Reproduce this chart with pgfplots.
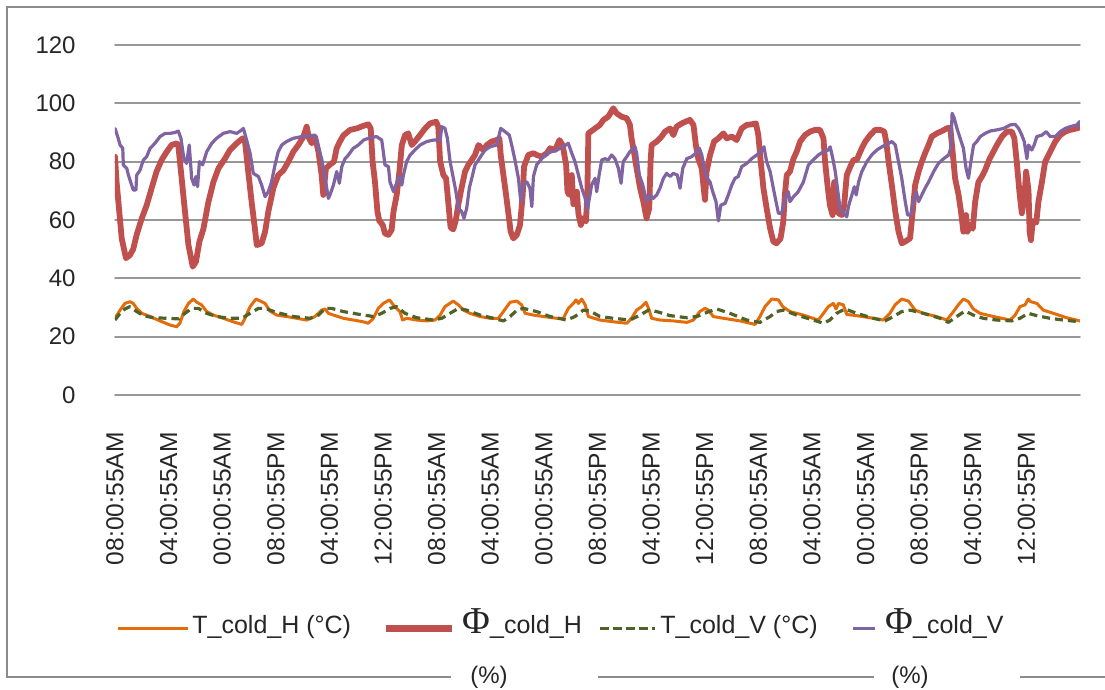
\documentclass[border=0pt]{standalone}
\usepackage{fontspec}
\setmainfont{Liberation Sans}
\newfontfamily\phifont{Liberation Serif}
\usepackage{pgfplots}
\pgfplotsset{compat=1.18}

\definecolor{cOrange}{HTML}{E46C0A}
\definecolor{cRed}{HTML}{C0504D}
\definecolor{cGreen}{HTML}{4F6228}
\definecolor{cPurple}{HTML}{8064A2}
\definecolor{cGrid}{HTML}{979797}
\definecolor{cFrame}{HTML}{8C8C8C}

% Hours since start of logging, value
\pgfplotstableread{
h v
0 26.3
1.9 29.1
3.7 31.4
5.6 32
6.8 31.4
8.1 29.7
10.0 28
13.1 26.9
16.8 25.4
20.5 24
23.0 23.4
24.2 24.6
25.7 28.6
27.4 31.4
29.2 32.9
30.5 31.8
32.3 30.9
34.2 28.6
36.7 27.4
40.4 26.3
44.1 25.1
47.3 24.2
48.5 26.3
50.4 30.3
52.6 32.9
54.7 32
56.0 31.4
57.8 28.8
60.3 27.4
64.0 26.9
67.8 26.3
71.5 25.7
74.6 26.9
77.1 29.1
78.4 29.5
79.6 28
81.5 27.4
85.2 26.3
88.9 25.7
92.6 25.1
94.5 24.6
96.4 26.3
98.2 29.7
100.1 31.4
102.4 32.6
103.8 30.9
106.3 28.6
107.3 25.7
108.8 26.3
112.5 25.7
116.3 25.4
119.4 25.7
121.3 27.4
123.1 30.3
126.2 32.2
128.1 30.9
130.0 29.1
132.4 28
136.2 26.9
139.9 26.3
143.0 26.3
144.9 28.6
147.4 31.8
149.9 32.2
151.7 30.9
153.0 28
156.1 27.4
159.8 26.9
164.8 26.3
167.3 26.3
169.1 29.7
171.0 31.4
172.0 32.6
172.9 31.4
174.1 32.9
175.4 30.9
176.6 26.9
180.9 25.7
185.9 25.1
190.9 24.6
192.7 26.3
194.6 29.1
196.5 30.3
198.1 31.8
199.3 29.1
200.2 26.3
203.3 25.7
208.3 25.4
213.3 24.9
215.8 25.7
218.2 28.6
220.1 29.7
221.4 29.1
223.2 26.9
227.0 26.3
233.2 25.4
238.8 24.2
240.6 26.9
242.5 30.3
245.0 32.9
247.5 32.6
249.1 30.3
251.8 28.6
256.8 27.4
262.4 25.7
264.3 28
266.1 30.3
268.0 31.4
269.0 29.5
269.9 31.4
271.7 30.9
273.0 27.6
276.7 27.2
282.9 26.3
286.6 25.7
289.1 28
291.0 30.9
293.5 32.9
296.0 32.2
298.5 29.1
301.6 28
306.5 26.9
310.3 25.7
312.8 28.6
314.6 30.9
316.5 32.9
318.4 32
320.2 29.5
322.7 28
327.7 26.9
333.9 25.7
335.8 27.4
337.6 30.3
339.5 30.9
340.7 32.9
341.6 32
343.9 31.4
346.3 29.1
350.1 28
355.0 26.5
360 25.4
}\TcoldH

\pgfplotstableread{
h v
0 81.7
0.6 73
2.5 53.7
4.1 46.9
5.6 48
6.8 50
8.1 55
10.0 60.6
11.8 65
13.7 71
15.5 76.6
17.4 80.6
19.3 83.4
21.1 85.7
23.0 86.3
23.6 85.7
24.9 74
26.1 63
27.4 51.4
29.0 44
30.2 45.7
31.5 52.6
33.0 57
34.8 66
36.7 73
38.6 77.7
41.0 81
42.9 84
45.4 86.3
47.6 88
48.5 86.9
49.7 76.6
51.0 66
52.2 57
52.9 51.4
54.7 52
56.0 56
57.2 62.9
59.1 71
60.9 75.4
62.8 77
64.7 80
66.5 83.4
68.4 85.7
70.3 88.6
71.5 92
72.4 88
73.4 86.3
74.6 88.6
75.9 83.4
77.1 75.4
77.7 68.6
78.7 77.7
80.2 79
81.7 80
82.7 84.6
83.9 86.9
85.2 89
87.7 90.9
90.2 91.4
92.7 92.3
94.5 92.8
95.4 91.4
96.1 80
97.0 73
97.9 62.9
98.6 59.7
99.9 58.3
100.7 55.4
102.0 54.9
103.2 56.6
103.9 62.9
105.1 68.6
106.1 76.6
107.0 85.7
108.2 89.1
109.4 89.7
110.7 85.7
111.9 86.9
113.8 89.1
115.7 91.4
117.5 93.1
119.8 93.7
120.6 92
121.3 80
122.5 75.4
123.5 74.3
124.4 65.4
125.2 57.4
126.2 56.8
127.2 60.2
128.1 65.4
129.3 71
130.6 76.6
131.8 78.9
133.1 80.6
134.3 82.3
135.6 85.7
137.4 84
138.7 85.7
140.5 86.9
142.4 87.4
143.4 88
143.9 82.3
144.9 75.4
145.9 68.6
146.8 62
147.6 56
148.6 53.7
149.9 54.9
151.1 58.3
152.1 68.6
152.6 78.3
154.2 82.3
156.1 82.9
157.3 82.3
159.2 81.7
161.1 82.9
162.3 84.6
164.2 84
165.8 87.4
167.0 85.7
168.3 78.9
168.8 69.7
169.5 68.6
170.4 75.4
171.0 65.4
172.3 69.7
172.9 62
173.8 58.3
174.7 60.6
175.7 59.5
176.2 68.6
176.6 89.7
179.1 91.4
180.9 92.6
182.2 94.3
184.0 95.4
185.9 98.3
187.1 96.6
189.0 95.4
190.9 94.9
192.1 92.6
192.7 88
193.6 83.4
194.6 77.7
195.9 70.9
197.1 66.3
198.3 60.6
199.3 64
199.8 80
200.2 85.7
202.1 86.9
203.9 88.6
205.2 90.3
207.1 91.4
208.3 89.1
209.5 92
211.4 93.1
213.3 93.9
214.5 94.3
215.8 92.6
216.7 85.7
217.6 81
218.9 77.7
219.5 72
220.1 66.9
220.7 76.6
222.0 82.3
223.5 86.9
225.1 88
227.0 89.7
228.2 88
230.1 88.6
231.9 87.4
233.8 91.4
235.7 92.6
237.5 92.8
239.1 93.1
240.0 89.1
240.9 80
241.9 70.9
243.1 64
244.4 57.1
245.6 52.6
246.8 52
248.3 53.7
249.3 59.4
249.9 68.6
250.6 75.4
251.8 76.6
253.1 81
254.3 83.4
255.6 86.9
257.4 89.1
259.3 90.3
261.2 90.9
263.0 90.9
264.3 88
264.9 80
265.8 72
266.7 65.1
267.7 61.7
268.3 73
269.0 65.7
269.9 62.3
271.2 61.7
272.0 65
273.0 75.4
274.3 78.3
275.5 80.6
276.7 80.6
278.6 84.6
279.9 86.9
281.7 89.1
283.6 90.9
285.5 90.9
287.0 90.3
287.7 86.9
288.6 80
289.8 72
291.1 62.9
292.3 56
293.5 52
294.8 52.6
296.6 53.7
297.6 62.9
298.5 72
299.8 76.6
301.0 80
302.2 82.9
303.5 85.7
304.7 88.6
306.6 89.7
308.5 90.5
310.3 91.4
311.6 91.7
312.6 82.3
313.4 74.3
314.7 68.6
315.6 62.9
316.5 56
317.5 61.7
318.0 56
319.0 58.3
320.0 57
320.9 66.3
322.1 73
323.4 74.9
324.6 77.1
326.3 81
327.7 83.4
329.0 85.7
330.9 88.6
332.7 90.3
334.6 90.3
335.5 88
336.4 80
337.4 69.7
338.3 62.3
339.2 67
339.9 76.6
340.8 70
341.2 56
341.7 53.1
342.4 59.7
343.7 59.1
344.5 66.3
345.8 73
347.0 80
348.9 83.4
350.8 86.9
352.6 89.1
354.5 90.3
356.3 90.9
358.8 91.4
360 91.8
}\PhicoldH

\pgfplotstableread{
h v
0 25.7
1.9 28
3.7 29.5
5.6 30.3
8.1 28.6
10.6 27.2
14.3 26.5
19.3 26.3
23.6 26.1
26.1 28
28.6 29.7
31.1 29.7
34.2 28
37.9 26.9
42.9 26.3
47.3 26.3
50.4 28
53.5 29.7
56.0 29.7
60.3 28.3
66.5 26.9
72.8 26.3
75.9 27.4
78.4 29.7
80.8 29.7
85.2 28.6
91.4 27.6
96.4 26.9
99.5 28
102.6 29.7
105.1 30.3
108.2 28
112.5 26.5
118.8 25.7
121.9 26.3
125.0 28
128.1 29.7
131.2 29.1
136.2 27.4
141.2 26.3
144.9 25.4
147.4 26.9
149.9 29.1
152.4 29.7
157.3 28.6
162.3 26.9
168.5 25.7
171.6 26.9
174.7 29.1
177.2 28.8
180.9 26.9
185.9 26.3
192.1 25.7
195.9 27.4
199.0 29.1
202.1 28.6
207.1 27.2
213.3 26.5
217.0 26.9
220.7 28.3
224.5 29.5
229.4 28
235.7 25.7
240.6 24.9
244.4 26.9
246.8 28.6
249.3 29.1
254.3 27.4
260.5 25.7
264.3 24.6
266.7 25.7
269.2 28
272.3 29.5
276.7 28
282.9 26.3
287.3 25.4
290.4 26.9
293.5 28.6
296.6 29.1
301.6 28
307.8 26.3
310.9 24.9
314.0 26.9
317.1 28.8
320.2 27.4
323.9 26.3
328.9 25.7
334.5 25.4
337.6 26.3
340.7 28
343.9 27.2
348.8 26.3
353.8 25.7
360 25.1
}\TcoldV

\pgfplotstableread{
h v
0 91.4
1.2 88
1.9 85.7
2.9 84.6
3.1 78.9
4.4 77.7
5.0 75.4
6.2 72
6.8 70.3
7.8 70.3
8.1 75.4
9.3 77
10.6 80.6
11.8 81.7
13.1 84.6
14.9 86.3
16.8 88.6
18.7 89.7
20.5 89.7
22.4 90
23.6 90.5
24.6 88
25.7 81
26.7 79.4
27.7 85.7
28.6 74.3
29.5 72
30.2 74.9
30.8 71.4
31.5 80
32.7 78.9
34.2 83.4
36.1 86.3
37.9 88
40.4 89.7
42.9 90.3
45.4 89.7
47.3 90.9
47.9 91.4
49.1 87.4
50.4 82.9
51.6 76
53.5 74.9
54.7 72
56.0 68
57.2 69.7
58.4 73
59.7 78.9
60.9 83.4
62.2 85.7
64.0 86.9
66.5 88
69.6 88.6
72.8 88.9
74.6 89.1
75.9 84.6
77.1 81
78.4 74.3
79.6 67.4
80.2 68.6
81.5 72
82.7 76.6
83.7 72.6
84.6 78.3
85.8 81
87.1 82.3
88.9 84.6
90.8 85.7
92.7 87.4
95.1 88.2
97.6 88.6
99.5 87.4
100.1 83.4
100.7 78.9
102.0 78.3
102.6 73
103.9 69.7
104.8 72
106.1 74.9
107.0 72
107.6 75.4
108.8 80
110.1 82.3
111.9 84
113.8 85.7
116.3 86.9
118.8 87.4
121.3 87.4
121.9 92
123.1 91.4
124.0 88
125.0 80
126.0 75.4
127.2 69.7
128.1 64
129.3 62.9
130.2 60.6
131.2 64
132.2 71
133.1 74.3
134.3 78.9
135.6 80.6
136.8 82.3
138.1 84
139.9 85.1
142.4 85.7
143.9 91.4
145.5 90.3
147.1 89.1
148.0 85.7
149.2 80.6
150.5 74.3
151.4 66.3
152.4 72.6
153.6 73.1
154.8 70.9
155.5 64.6
156.1 74.9
157.3 78.9
159.2 81
161.1 82.9
162.9 83.4
164.8 84
167.3 85.1
169.1 86.3
170.4 82.9
171.6 80
172.9 75.4
174.1 71
175.4 67.4
176.2 63.4
177.2 68.6
177.8 72
179.1 74.3
179.7 69.7
180.7 76
181.6 80.6
182.8 81
184.0 80.6
185.3 82.3
186.5 81
187.8 77.7
188.8 72.6
189.6 80
190.9 81.7
192.1 83.4
194.0 85.1
194.6 82.9
195.6 75.4
196.9 72
198.3 66.3
199.6 68.6
200.8 67.4
202.1 68.6
203.3 70.9
204.6 74.3
205.8 76
207.1 74.9
208.3 76
209.8 75.4
210.8 70.9
211.8 77.7
213.3 81
215.1 81.7
216.7 82.9
218.0 84.6
218.9 82.3
220.1 76.6
221.0 74.3
222.0 73
223.0 69.7
224.2 66.3
225.1 59.7
226.0 65.1
227.6 65.7
228.8 68.6
230.1 72
231.3 74.3
232.5 74.9
233.8 78.3
235.7 79.4
237.5 81
239.4 82.3
240.9 83.4
242.1 85.1
243.1 80
244.4 76.6
245.6 70.9
246.6 66.3
247.5 62.3
248.7 62.3
250.0 67.4
251.2 69.7
251.8 66.3
253.1 68
254.9 69.7
256.8 73
258.7 78.9
260.5 80.6
262.4 82.3
264.3 83.4
266.1 84
266.8 85.1
267.8 81
268.7 76.6
269.5 70.9
270.5 64
271.8 62.3
273.0 61.1
273.6 64.6
274.9 68.6
275.8 71.4
276.5 68.6
277.4 73
278.6 76.6
280.5 80
282.3 82.3
284.2 84
286.1 85.1
287.9 85.9
289.8 86.9
291.1 85.7
292.3 80
293.5 74.3
294.8 66.3
295.7 61.7
296.9 61.7
297.9 66.3
298.9 69.7
299.8 66.3
301.0 68.6
302.2 70.9
303.5 73
305.4 76.6
307.2 79.4
309.1 81
311.0 82.3
311.8 84.6
312.3 96.6
313.1 94.9
314.1 91.4
315.3 88
316.5 84.6
317.5 77.7
318.4 74.3
319.3 80
320.3 85.7
321.5 86.9
322.8 88.6
324.6 89.7
326.5 90.5
329.0 90.9
331.5 91.4
334.0 92.6
335.8 92.8
337.1 91.4
338.3 89.1
339.2 86.9
340.2 81
340.8 85.7
342.0 84
342.9 85.7
343.9 88.6
345.8 89.1
347.4 90.3
348.9 88.6
350.8 88.6
352.6 90.3
354.5 91.4
356.3 92
358.8 92.6
359.8 93.7
360 92
}\PhicoldV

\begin{document}
\begin{tikzpicture}
\useasboundingbox (-57.5pt,-147.5pt) rectangle (495pt,197.5pt);
\fill[white] (-57.5pt,-147.5pt) rectangle (495pt,197.5pt);

% chart area border
\draw[cFrame, line width=1pt] (168pt,-141pt) -- (-54pt,-141pt) -- (-54pt,194pt) -- (500pt,194pt);
\draw[cFrame, line width=1pt] (241.5pt,-141pt) -- (379.5pt,-141pt);
\draw[cFrame, line width=1pt] (452.5pt,-141pt) -- (500pt,-141pt);

\begin{axis}[
  at={(0pt,0pt)}, anchor=south west,
  scale only axis, width=482.5pt, height=175pt,
  xmin=0, xmax=360, ymin=0, ymax=120,
  axis line style={draw=none},
  tick style={draw=none},
  major tick length=0pt,
  ytick={0,20,...,120},
  ymajorgrids,
  grid style={cGrid, line width=0.85pt},
  xtick={0,20,...,340},
  xticklabels={08:00:55AM,04:00:55AM,00:00:55AM,08:00:55PM,04:00:55PM,12:00:55PM,
               08:00:55AM,04:00:55AM,00:00:55AM,08:00:55PM,04:00:55PM,12:00:55PM,
               08:00:55AM,04:00:55AM,00:00:55AM,08:00:55PM,04:00:55PM,12:00:55PM},
  xticklabel style={rotate=90, anchor=east, inner sep=0pt,
                    font=\fontsize{12.3}{14}\selectfont, text=black!85},
  yticklabel style={anchor=east, inner sep=0pt,
                    font=\fontsize{12}{14}\selectfont, text=black!85},
  xticklabel shift=18.5pt,
  yticklabel shift=19.5pt,
  /pgf/number format/assume math mode=true,
  line join=round, line cap=round,
]
\addplot[cOrange, line width=1.5pt] table[x=h, y=v] {\TcoldH};
\addplot[cRed, line width=2.9pt] table[x=h, y=v] {\PhicoldH};
\addplot[cGreen, line width=1.6pt, line cap=butt, dash pattern=on 4pt off 2.5pt] table[x=h, y=v] {\TcoldV};
\addplot[cPurple, line width=1.6pt] table[x=h, y=v] {\PhicoldV};
\end{axis}

% legend
\begin{scope}[every node/.style={anchor=base west, inner sep=0pt,
      font=\fontsize{12.5}{14}\selectfont, text=black!85}]
\draw[cOrange, line width=1.6pt] (1.5pt,-116.7pt) -- (36.5pt,-116.7pt);
\node at (38.5pt,-119.5pt) {T\_cold\_H (°C)};
\draw[cRed, line width=3.2pt] (135.5pt,-116.7pt) -- (168.5pt,-116.7pt);
\node at (173.5pt,-119.5pt) {{\phifont\fontsize{19}{19}\selectfont Φ}\_cold\_H};
\draw[cGreen, line width=1.6pt, dash pattern=on 4.5pt off 2pt] (242.5pt,-116.7pt) -- (270pt,-116.7pt);
\node at (272.5pt,-119.5pt) {T\_cold\_V (°C)};
\draw[cPurple, line width=1.6pt] (369pt,-116.7pt) -- (380pt,-116.7pt);
\node at (385pt,-119.5pt) {{\phifont\fontsize{19}{19}\selectfont Φ}\_cold\_V};
\end{scope}
\node[font=\fontsize{12}{14}\selectfont, text=black!85, inner sep=0pt] at (187pt,-141pt) {(\%)};
\node[font=\fontsize{12}{14}\selectfont, text=black!85, inner sep=0pt] at (397.5pt,-141pt) {(\%)};
\end{tikzpicture}
\end{document}
